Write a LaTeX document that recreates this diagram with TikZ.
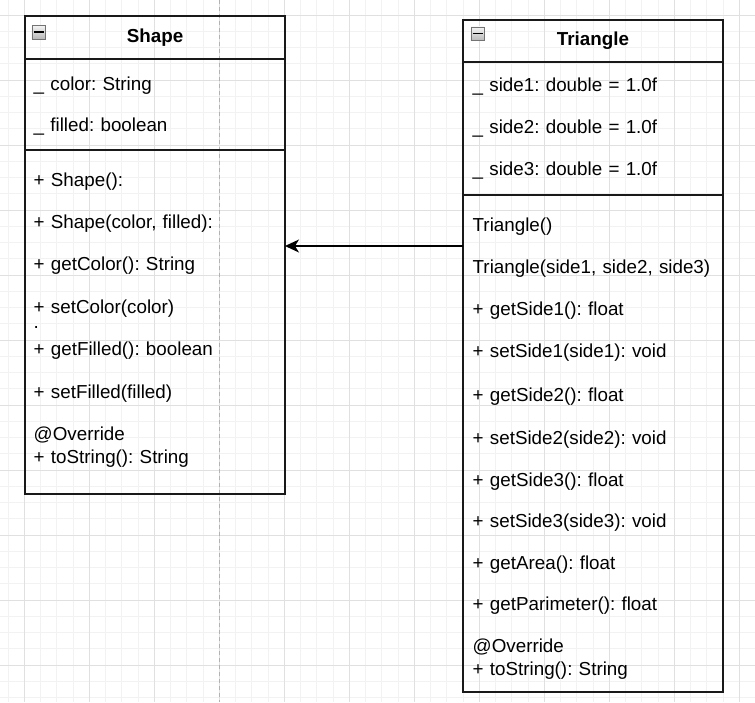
\documentclass[tikz,border=0pt]{standalone}
\usepackage{fontspec}
\setmainfont{Liberation Sans}
\usepackage{tikz}
\usetikzlibrary{positioning, arrows.meta}
\frenchspacing
\tikzstyle{arrow} = [line width=1.3pt,-{Stealth[length=14pt,width=13pt,inset=4pt]}]
\tikzstyle{section} = [rectangle, draw=black!90, line width=1.2pt, minimum width=260pt, inner sep=0pt, outer sep=0pt]
\tikzstyle{member} = [anchor=base west, inner sep=0pt, text width=245pt, align=left, font=\fontsize{18.8}{23}\selectfont]
\tikzstyle{collapse} = [rectangle, draw=black!55, top color=gray!8, bottom color=gray!55, minimum size=13.5pt, inner sep=0pt, anchor=north west]
\tikzstyle{minorgrid} = [draw=black!5, line width=0.8pt]
\tikzstyle{majorgrid} = [draw=black!12, line width=0.8pt]
\tikzstyle{pagebreak} = [draw=black!30, line width=0.9pt, dash pattern=on 4pt off 3pt]

\begin{document}
\begin{tikzpicture}[x=1pt,y=-1pt]
\useasboundingbox (0,0) rectangle (755,702);

% grid
\foreach \i in {0,...,45} \draw[minorgrid] ({8.05+16.25*\i},0) -- ({8.05+16.25*\i},702);
\foreach \j in {1,...,43} \draw[minorgrid] (0,{-1.25+16.25*\j}) -- (755,{-1.25+16.25*\j});
\foreach \i in {0,...,11} \draw[majorgrid] ({24.3+65*\i},0) -- ({24.3+65*\i},702);
\foreach \j in {0,...,10} \draw[majorgrid] (0,{15+65*\j}) -- (755,{15+65*\j});
\draw[pagebreak] (219.3,0) -- (219.3,702);

% Shape
\node(shapehead)[section, minimum height=43pt, anchor=north west, font=\fontsize{18.8}{23}\selectfont\bfseries] at (25,16) {Shape};
\node(shapefields)[section, minimum height=91pt, below=0pt of shapehead]{};
\node(shapemethods)[section, minimum height=344pt, below=0pt of shapefields]{};
\node(shapeicon)[collapse] at (31.7,25) {};
\draw [line width=1.6pt] ([xshift=2pt]shapeicon.west) -- ([xshift=-2pt]shapeicon.east);

\node(sf1)[member] at (33.5,90) {\_ color: String};
\node(sf2)[member] at (33.5,131) {\_ filled: boolean};
\node(sm1)[member] at (33.5,186) {+ Shape():};
\node(sm2)[member] at (33.5,228.4) {+ Shape(color, filled):};
\node(sm3)[member] at (33.5,270.8) {+ getColor(): String};
\node(sm4)[member] at (33.5,313.2) {+ setColor(color)};
\node(sm4dot)[member, text height=2pt, text depth=0pt] at (33.5,328.5) {.};
\node(sm5)[member] at (33.5,355.6) {+ getFilled(): boolean};
\node(sm6)[member] at (33.5,398) {+ setFilled(filled)};
\node(sm7)[member] at (33.5,440.4) {@Override\\+ toString(): String};

% Triangle
\node(trianglehead)[section, minimum height=42pt, anchor=north west, font=\fontsize{18.8}{23}\selectfont\bfseries] at (463,20) {Triangle};
\node(trianglefields)[section, minimum height=133pt, below=0pt of trianglehead]{};
\node(trianglemethods)[section, minimum height=497pt, below=0pt of trianglefields]{};
\node(triangleicon)[collapse] at (470.7,26.7) {};
\draw [line width=1.6pt] ([xshift=2pt]triangleicon.west) -- ([xshift=-2pt]triangleicon.east);

\node(tf1)[member] at (472.5,91) {\_ side1: double = 1.0f};
\node(tf2)[member] at (472.5,133) {\_ side2: double = 1.0f};
\node(tf3)[member] at (472.5,175) {\_ side3: double = 1.0f};
\node(tm1)[member] at (472.5,231.5) {Triangle()};
\node(tm2)[member] at (472.5,273) {Triangle(side1, side2, side3)};
\node(tm3)[member] at (472.5,315) {+ getSide1(): float};
\node(tm4)[member] at (472.5,357) {+ setSide1(side1): void};
\node(tm5)[member] at (472.5,401) {+ getSide2(): float};
\node(tm6)[member] at (472.5,444) {+ setSide2(side2): void};
\node(tm7)[member] at (472.5,486) {+ getSide3(): float};
\node(tm8)[member] at (472.5,527.5) {+ setSide3(side3): void};
\node(tm9)[member] at (472.5,569) {+ getArea(): float};
\node(tm10)[member] at (472.5,610.5) {+ getParimeter(): float};
\node(tm11)[member] at (472.5,652) {@Override\\+ toString(): String};

% inheritance
\coordinate (inherit) at (463,246);
\draw [arrow] (inherit) -- (inherit -| shapemethods.east);

\end{tikzpicture}
\end{document}
